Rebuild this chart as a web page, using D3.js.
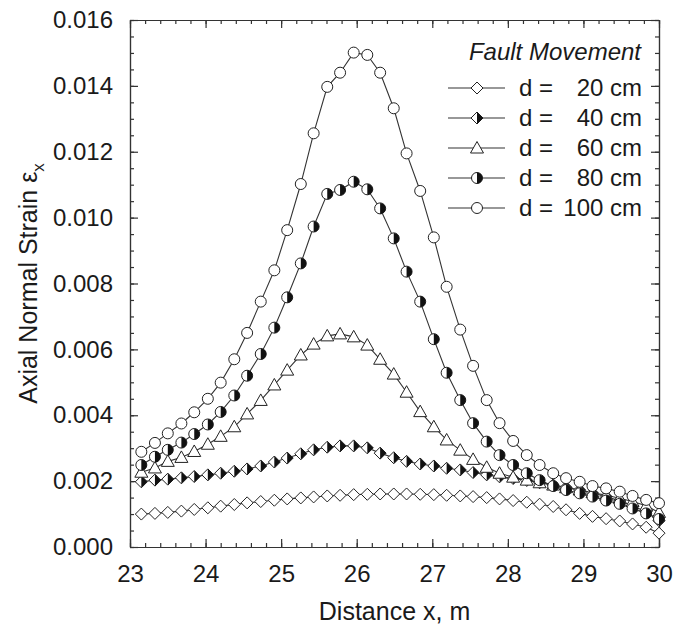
<!DOCTYPE html>
<html>
<head>
<meta charset="utf-8">
<script src="https://cdn.jsdelivr.net/npm/d3@7"></script>
<style>
  body { margin: 0; background: #fff; }
  svg text { font-family: "Liberation Sans", Arial, sans-serif; fill: #1a1a1a; }
</style>
</head>
<body>
<script>
// distance along pipe (m)
var xValues = [23.15, 23.33, 23.50, 23.68, 23.85, 24.03, 24.20, 24.38, 24.55, 24.73,
  24.91, 25.08, 25.26, 25.43, 25.61, 25.78, 25.96, 26.14, 26.31, 26.49,
  26.66, 26.84, 27.02, 27.19, 27.37, 27.54, 27.72, 27.89, 28.07, 28.25,
  28.42, 28.60, 28.77, 28.95, 29.12, 29.30, 29.48, 29.65, 29.83, 30.00];

var d20 = [0.00100, 0.00102, 0.00105, 0.00109, 0.00114, 0.00119, 0.00124, 0.00129, 0.00134, 0.00138,
  0.00142, 0.00146, 0.00149, 0.00152, 0.00155, 0.00157, 0.00159, 0.00160, 0.00161, 0.00161,
  0.00161, 0.00160, 0.00159, 0.00157, 0.00155, 0.00153, 0.00150, 0.00146, 0.00141, 0.00136,
  0.00130, 0.00123, 0.00113, 0.00102, 0.00093, 0.00086, 0.00079, 0.00070, 0.00060, 0.00042];

var d40 = [0.00198, 0.00203, 0.00206, 0.00210, 0.00214, 0.00219, 0.00224, 0.00230, 0.00237, 0.00246,
  0.00258, 0.00270, 0.00283, 0.00295, 0.00303, 0.00307, 0.00307, 0.00301, 0.00285, 0.00271,
  0.00260, 0.00252, 0.00246, 0.00239, 0.00234, 0.00226, 0.00219, 0.00213, 0.00208, 0.00202,
  0.00195, 0.00188, 0.00181, 0.00173, 0.00164, 0.00153, 0.00140, 0.00125, 0.00107, 0.00080];

var d60 = [0.00227, 0.00240, 0.00260, 0.00272, 0.00290, 0.00312, 0.00336, 0.00365, 0.00404, 0.00445,
  0.00492, 0.00537, 0.00583, 0.00616, 0.00641, 0.00647, 0.00638, 0.00613, 0.00570, 0.00525,
  0.00470, 0.00411, 0.00365, 0.00325, 0.00294, 0.00266, 0.00242, 0.00224, 0.00212, 0.00203,
  0.00195, 0.00188, 0.00180, 0.00173, 0.00165, 0.00157, 0.00148, 0.00138, 0.00125, 0.00105];

var d80 = [0.00249, 0.00274, 0.00295, 0.00317, 0.00343, 0.00372, 0.00410, 0.00460, 0.00520, 0.00586,
  0.00666, 0.00758, 0.00861, 0.00973, 0.01072, 0.01084, 0.01109, 0.01086, 0.01028, 0.00937,
  0.00836, 0.00745, 0.00631, 0.00529, 0.00446, 0.00376, 0.00320, 0.00279, 0.00249, 0.00224,
  0.00203, 0.00185, 0.00173, 0.00163, 0.00153, 0.00141, 0.00131, 0.00117, 0.00102, 0.00085];

var d100 = [0.00289, 0.00316, 0.00345, 0.00375, 0.00409, 0.00450, 0.00499, 0.00570, 0.00650, 0.00745,
  0.00840, 0.00962, 0.01102, 0.01256, 0.01397, 0.01440, 0.01501, 0.01494, 0.01440, 0.01332,
  0.01195, 0.01081, 0.00940, 0.00790, 0.00660, 0.00550, 0.00446, 0.00376, 0.00322, 0.00279,
  0.00249, 0.00224, 0.00209, 0.00198, 0.00185, 0.00178, 0.00168, 0.00155, 0.00143, 0.00133];

var xTicks = [23, 24, 25, 26, 27, 28, 29, 30];
var yTicks = [0, 0.002, 0.004, 0.006, 0.008, 0.010, 0.012, 0.014, 0.016];
var legendNames = ["20", "40", "60", "80", "100"];
var markerTypes = ["diamond", "halfDiamond", "triangle", "halfCircle", "circle"];

var width = 674, height = 626;
var margin = {top: 20, right: 15, bottom: 79, left: 130};

var svg = d3.select("body").append("svg")
  .attr("width", width)
  .attr("height", height);

var x = d3.scaleLinear().domain([23, 30]).range([margin.left, width - margin.right]);
var y = d3.scaleLinear().domain([0, 0.016]).range([height - margin.bottom, margin.top]);

var xMinor = d3.range(23, 30.001, 0.2);
var yMinor = d3.range(0, 0.01601, 0.0005);

// minor ticks, all four sides
svg.append("g").attr("transform", "translate(0," + y(0) + ")")
  .call(d3.axisBottom(x).tickValues(xMinor).tickFormat("").tickSize(-4).tickSizeOuter(0));
svg.append("g").attr("transform", "translate(0," + y(0.016) + ")")
  .call(d3.axisTop(x).tickValues(xMinor).tickFormat("").tickSize(-4).tickSizeOuter(0));
svg.append("g").attr("transform", "translate(" + x(23) + ",0)")
  .call(d3.axisLeft(y).tickValues(yMinor).tickFormat("").tickSize(-4).tickSizeOuter(0));
svg.append("g").attr("transform", "translate(" + x(30) + ",0)")
  .call(d3.axisRight(y).tickValues(yMinor).tickFormat("").tickSize(-4).tickSizeOuter(0));

// major ticks
svg.append("g").attr("class", "xaxis").attr("transform", "translate(0," + y(0) + ")")
  .call(d3.axisBottom(x).tickValues(xTicks).tickFormat(d3.format("d")).tickSize(-8).tickPadding(18).tickSizeOuter(0));
svg.append("g").attr("transform", "translate(0," + y(0.016) + ")")
  .call(d3.axisTop(x).tickValues(xTicks).tickFormat("").tickSize(-8).tickSizeOuter(0));
svg.append("g").attr("class", "yaxis").attr("transform", "translate(" + x(23) + ",0)")
  .call(d3.axisLeft(y).tickValues(yTicks).tickFormat(d3.format(".3f")).tickSize(-8).tickPadding(17).tickSizeOuter(0));
svg.append("g").attr("transform", "translate(" + x(30) + ",0)")
  .call(d3.axisRight(y).tickValues(yTicks).tickFormat("").tickSize(-8).tickSizeOuter(0));

svg.selectAll(".domain, .tick line").attr("stroke", "#333").attr("stroke-width", 1.2);
svg.selectAll(".xaxis text, .yaxis text").style("font-size", "24px").attr("fill", "#1a1a1a");

// axis titles
svg.append("text")
  .attr("x", (x(23) + x(30)) / 2)
  .attr("y", 620)
  .attr("text-anchor", "middle")
  .style("font-size", "25px")
  .text("Distance x, m");

var yTitle = svg.append("text")
  .attr("transform", "translate(37," + ((y(0) + y(0.016)) / 2) + ") rotate(-90)")
  .attr("text-anchor", "middle")
  .style("font-size", "25px");
yTitle.append("tspan").text("Axial Normal Strain ε");
yTitle.append("tspan").attr("dy", 7).style("font-size", "17px").text("x");

// marker drawing
function drawMarker(g, type) {
  var r = 6;
  if (type == "circle" || type == "halfCircle") {
    g.append("circle").attr("r", 5.5).attr("fill", "#fff").attr("stroke", "#222").attr("stroke-width", 1);
    if (type == "halfCircle")
      g.append("path").attr("d", "M0,-5.5 A5.5,5.5 0 0,1 0,5.5 Z").attr("fill", "#111");
  } else if (type == "diamond" || type == "halfDiamond") {
    g.append("path").attr("d", "M0,-" + r + " L" + r + ",0 L0," + r + " L-" + r + ",0 Z")
      .attr("fill", "#fff").attr("stroke", "#222").attr("stroke-width", 1);
    if (type == "halfDiamond")
      g.append("path").attr("d", "M0,-" + r + " L" + r + ",0 L0," + r + " Z").attr("fill", "#111");
  } else if (type == "triangle") {
    g.append("path").attr("d", "M0,-6.5 L6.5,5 L-6.5,5 Z")
      .attr("fill", "#fff").attr("stroke", "#222").attr("stroke-width", 1);
  }
}

var allSeries = [d20, d40, d60, d80, d100];

var line = d3.line()
  .x(function(d, i) { return x(xValues[i]); })
  .y(function(d) { return y(d); });

allSeries.forEach(function(vals, k) {
  svg.append("path")
    .datum(vals)
    .attr("d", line)
    .attr("fill", "none")
    .attr("stroke", "#333")
    .attr("stroke-width", 1.1);
});

allSeries.forEach(function(vals, k) {
  svg.append("g").selectAll("g")
    .data(vals)
    .enter()
    .append("g")
    .attr("transform", function(d, i) { return "translate(" + x(xValues[i]) + "," + y(d) + ")"; })
    .each(function() { drawMarker(d3.select(this), markerTypes[k]); });
});

// legend
var legend = svg.append("g");
legend.append("text")
  .attr("x", 641)
  .attr("y", 60)
  .attr("text-anchor", "end")
  .style("font-size", "24px")
  .style("font-style", "italic")
  .text("Fault Movement");

legendNames.forEach(function(name, i) {
  var ly = 88 + i * 30;
  legend.append("line")
    .attr("x1", 448).attr("x2", 505)
    .attr("y1", ly).attr("y2", ly)
    .attr("stroke", "#333").attr("stroke-width", 1.1);
  drawMarker(legend.append("g").attr("transform", "translate(477," + ly + ")"), markerTypes[i]);
  legend.append("text")
    .attr("x", 519).attr("y", ly + 8)
    .style("font-size", "24px")
    .text("d =");
  legend.append("text")
    .attr("x", 642).attr("y", ly + 8)
    .attr("text-anchor", "end")
    .style("font-size", "24px")
    .text(name + " cm");
});
</script>
</body>
</html>
